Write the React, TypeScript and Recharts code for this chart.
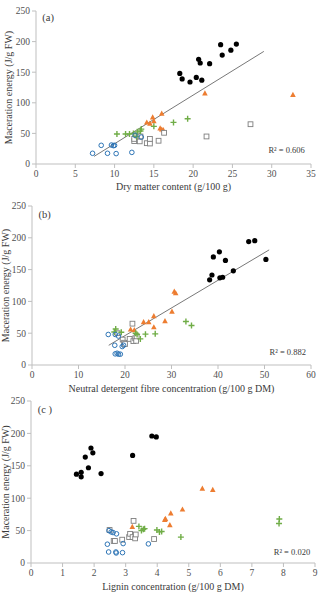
import React from 'react';
import { ScatterChart, Scatter, XAxis, YAxis, ReferenceLine, ReferenceDot } from 'recharts';

type P = { x: number; y: number };
const pts = (a: number[][]): P[] => a.map(([x, y]) => ({ x, y }));

const FONT = '"Liberation Serif", "Times New Roman", serif';
const BLACK = '#000000';
const ORANGE = '#ED7D31';
const GREEN = '#70AD47';
const GRAY = '#7F7F7F';
const BLUE = '#2E75B6';
const AXIS = '#BFBFBF';
const TEXT = '#3A3A3A';

const yTicks = [0, 50, 100, 150, 200, 250];

// Panel (a): dry matter content
const blackA = pts([[18.3, 148], [18.6, 139], [19.6, 134], [20.4, 141.5], [20.7, 171], [20.9, 165], [21.1, 137], [22.1, 164], [23.5, 195], [23.7, 178], [24.8, 186], [25.5, 196]]);
const orangeA = pts([[14.1, 68], [14.5, 66], [14.85, 76.5], [15.0, 70], [16.0, 82.5], [15.8, 58.5], [16.0, 56.5], [16.2, 55.5], [21.5, 115.5], [32.7, 113]]);
const greenA = pts([[10.3, 49], [11.4, 49], [11.9, 49], [12.4, 50], [12.8, 45], [12.9, 52.5], [13.3, 54], [13.4, 57], [15.0, 61.5], [17.5, 68], [19.3, 74]]);
const grayA = pts([[12.5, 37.5], [12.5, 41], [12.9, 46.5], [13.2, 37], [13.3, 45], [14.1, 34], [14.5, 33.5], [14.5, 41], [15.6, 38], [16.3, 51], [21.7, 45], [27.3, 65]]);
const blueA = pts([[7.2, 17.5], [8.3, 30.5], [9.1, 17.5], [9.6, 31], [9.85, 30], [10.0, 30.5], [10.2, 17], [12.2, 19], [12.6, 47], [13.4, 44]]);
const trendA = pts([[7.4, 12.5], [29.0, 184]]);
const xTicksA = [0, 5, 10, 15, 20, 25, 30, 35];

// Panel (b): NDF
const blackB = pts([[38.2, 134], [38.7, 141.5], [39.0, 170], [40.3, 178], [40.4, 137], [41.0, 138], [41.6, 164.5], [43.3, 148], [46.6, 194], [47.9, 195.5], [50.3, 166]]);
const orangeB = pts([[21.2, 56], [22.0, 55], [24.0, 67.5], [25.1, 67.5], [26.2, 77], [26.2, 59.5], [28.6, 69], [30.1, 84], [30.6, 115.5], [30.9, 113]]);
const greenB = pts([[17.7, 52], [18.0, 56.5], [19.2, 51.5], [22.3, 50], [22.6, 48], [23.3, 41], [24.4, 48.5], [26.5, 49], [33.1, 68.5], [34.3, 62]]);
const grayB = pts([[18.4, 50], [19.5, 40], [19.8, 35], [20.0, 33], [21.0, 41], [21.6, 65], [21.8, 37.5], [22.2, 42], [22.4, 38], [22.5, 45]]);
const blueB = pts([[16.4, 48], [17.9, 48], [18.6, 45.5], [17.8, 31], [19.4, 29], [19.7, 31], [17.9, 17.5], [18.3, 18.5], [18.6, 17], [19.0, 17]]);
const trendB = pts([[16.5, 31], [51.0, 181]]);
const xTicksB = [0, 10, 20, 30, 40, 50, 60];

// Panel (c): lignin
const blackC = pts([[1.44, 137], [1.59, 140], [1.59, 133], [1.72, 163.5], [1.82, 147], [1.9, 177.5], [1.96, 170], [2.22, 138], [3.22, 166], [3.83, 196], [3.97, 194.5]]);
const orangeC = pts([[3.21, 56], [4.24, 66.8], [4.26, 68.4], [4.43, 76.6], [4.4, 58.6], [4.8, 82.7], [5.43, 115], [5.76, 113]]);
const greenC = pts([[3.42, 56.5], [3.5, 50], [3.56, 52], [3.6, 53], [3.99, 51], [4.07, 48], [4.14, 48.5], [4.75, 40], [7.86, 61], [7.87, 68]]);
const grayC = pts([[2.49, 51], [2.62, 34], [2.66, 34], [2.89, 36], [3.11, 40], [3.14, 45], [3.22, 40], [3.25, 65], [3.3, 38], [3.32, 44], [3.9, 37]]);
const blueC = pts([[2.42, 29], [2.47, 50], [2.54, 48], [2.6, 47], [2.71, 45], [2.46, 17], [2.69, 17], [2.7, 15.5], [2.9, 16], [2.92, 30], [3.72, 29.5]]);
const xTicksC = [0, 1, 2, 3, 4, 5, 6, 7, 8, 9];

const Dot = (p: any) => <circle cx={p.cx} cy={p.cy} r={2.6} fill={BLACK} />;
const OpenCircle = (p: any) => <circle cx={p.cx} cy={p.cy} r={2.3} fill="none" stroke={BLUE} strokeWidth={1} />;
const Square = (p: any) => <rect x={p.cx - 2.4} y={p.cy - 2.4} width={4.8} height={4.8} fill="#fff" stroke={GRAY} strokeWidth={0.9} />;
const Tri = (p: any) => (
  <polygon points={`${p.cx},${p.cy - 3} ${p.cx + 2.8},${p.cy + 2.2} ${p.cx - 2.8},${p.cy + 2.2}`} fill={ORANGE} />
);
const Plus = (p: any) => (
  <path d={`M${p.cx - 3},${p.cy}H${p.cx + 3}M${p.cx},${p.cy - 3}V${p.cy + 3}`} stroke={GREEN} strokeWidth={1.4} fill="none" />
);

type PanelProps = {
  top: number;
  height: number;
  yAxisWidth: number;
  marginTop: number;
  marginRight: number;
  xAxisHeight: number;
  xDomain: [number, number];
  xTicks: number[];
  xTitle: string;
  xTitleOffset: number;
  yTitleX: number;
  black: P[];
  orange: P[];
  green: P[];
  gray: P[];
  blue: P[];
  trend?: P[];
  letter: string;
  letterPos: P;
  r2: string;
  r2Pos: P;
};

function Panel(props: PanelProps) {
  const { top, height, yAxisWidth, marginTop, marginRight, xAxisHeight, xDomain, xTicks, xTitle, xTitleOffset, yTitleX } = props;
  const plotMid = (marginTop + (height - xAxisHeight)) / 2;
  const tickStyle = { fontSize: 9.5, fill: '#505050', fontFamily: FONT };
  return (
    <div style={{ position: 'absolute', left: 0, top, width: 322, height }}>
      <ScatterChart width={322} height={height} margin={{ top: marginTop, right: marginRight, left: 0, bottom: 0 }}>
        <XAxis
          type="number"
          dataKey="x"
          domain={xDomain}
          ticks={xTicks}
          interval={0}
          height={xAxisHeight}
          stroke={AXIS}
          tickLine={{ stroke: AXIS }}
          tickSize={4}
          tickMargin={2}
          tick={tickStyle}
          label={{ value: xTitle, position: 'insideBottom', offset: xTitleOffset, fontSize: 10, fill: TEXT, fontFamily: FONT }}
        />
        <YAxis
          type="number"
          dataKey="y"
          domain={[0, 250]}
          ticks={yTicks}
          interval={0}
          width={yAxisWidth}
          stroke={AXIS}
          tickLine={{ stroke: AXIS }}
          tickSize={4}
          tickMargin={2}
          tick={tickStyle}
          label={(lp: any) => {
            const vb = lp && lp.viewBox;
            const cy = vb && typeof vb.y === 'number' ? vb.y + vb.height / 2 : plotMid;
            return (
              <text
                transform={`translate(${yTitleX},${cy}) rotate(-90)`}
                textAnchor="middle"
                fontSize={10}
                fill={TEXT}
                fontFamily={FONT}
              >
                Maceration energy (J/g FW)
              </text>
            );
          }}
        />
        {props.trend && (
          <ReferenceLine segment={props.trend} stroke="#555555" strokeWidth={0.8} ifOverflow="visible" />
        )}
        <Scatter data={props.black} shape={Dot} isAnimationActive={false} />
        <Scatter data={props.orange} shape={Tri} isAnimationActive={false} />
        <Scatter data={props.gray} shape={Square} isAnimationActive={false} />
        <Scatter data={props.green} shape={Plus} isAnimationActive={false} />
        <Scatter data={props.blue} shape={OpenCircle} isAnimationActive={false} />
        <ReferenceDot
          x={props.letterPos.x}
          y={props.letterPos.y}
          r={0}
          fill="none"
          stroke="none"
          ifOverflow="visible"
          label={{ value: props.letter, position: 'center', fontSize: 10.5, fill: TEXT, fontFamily: FONT }}
        />
        <ReferenceDot
          x={props.r2Pos.x}
          y={props.r2Pos.y}
          r={0}
          fill="none"
          stroke="none"
          ifOverflow="visible"
          label={{ value: props.r2, position: 'center', fontSize: 8.5, fill: TEXT, fontFamily: FONT }}
        />
      </ScatterChart>
    </div>
  );
}

export default function App() {
  return (
    <div style={{ position: 'absolute', left: 0, top: 0, width: 322, height: 597, background: '#fff', overflow: 'hidden' }}>
      <Panel
        top={0}
        height={198}
        yAxisWidth={36}
        marginTop={11}
        marginRight={11}
        xAxisHeight={34}
        xDomain={[0, 35]}
        xTicks={xTicksA}
        xTitle="Dry matter content (g/100 g)"
        xTitleOffset={8}
        yTitleX={12}
        black={blackA}
        orange={orangeA}
        green={greenA}
        gray={grayA}
        blue={blueA}
        trend={trendA}
        letter="(a)"
        letterPos={{ x: 1.55, y: 239 }}
        r2="R² = 0.606"
        r2Pos={{ x: 31.9, y: 23 }}
      />
      <Panel
        top={196}
        height={200}
        yAxisWidth={32}
        marginTop={10}
        marginRight={11}
        xAxisHeight={31}
        xDomain={[0, 60]}
        xTicks={xTicksB}
        xTitle="Neutral detergent fibre concentration (g/100 g DM)"
        xTitleOffset={4}
        yTitleX={8.5}
        black={blackB}
        orange={orangeB}
        green={greenB}
        gray={grayB}
        blue={blueB}
        trend={trendB}
        letter="(b)"
        letterPos={{ x: 2.7, y: 237 }}
        r2="R² = 0.882"
        r2Pos={{ x: 55, y: 21 }}
      />
      <Panel
        top={391}
        height={206}
        yAxisWidth={31}
        marginTop={10}
        marginRight={7}
        xAxisHeight={34}
        xDomain={[0, 9]}
        xTicks={xTicksC}
        xTitle="Lignin concentration (g/100 g DM)"
        xTitleOffset={7.5}
        yTitleX={8.5}
        black={blackC}
        orange={orangeC}
        green={greenC}
        gray={grayC}
        blue={blueC}
        letter="(c )"
        letterPos={{ x: 0.44, y: 237 }}
        r2="R² = 0.020"
        r2Pos={{ x: 8.27, y: 17.5 }}
      />
    </div>
  );
}
